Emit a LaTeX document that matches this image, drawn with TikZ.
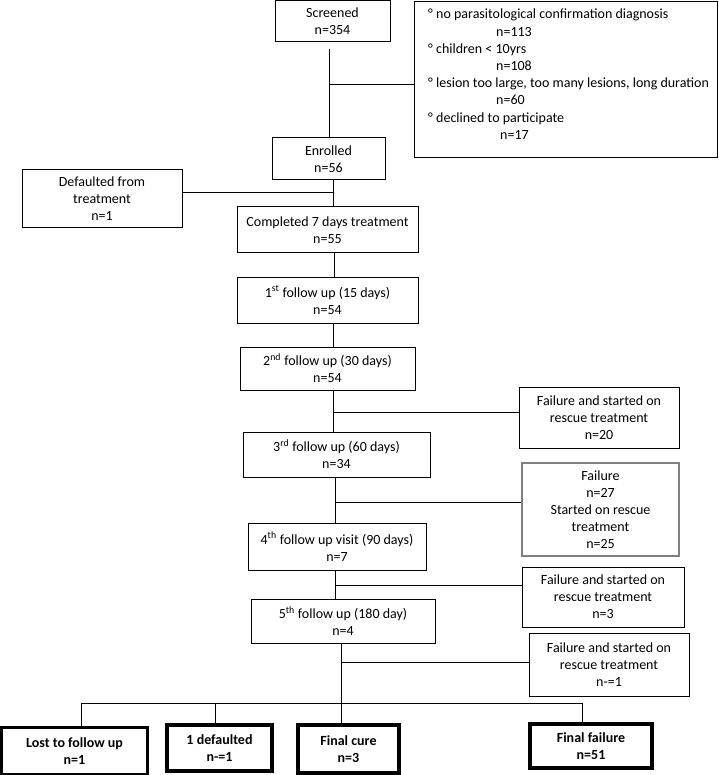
\documentclass[tikz,border=0pt]{standalone}
\usepackage{fontspec}
\setmainfont{Carlito}
\begin{document}
\begin{tikzpicture}[x=1pt,y=-1pt,
  box/.style={draw, line width=1pt, inner sep=0pt, align=center, font=\fontsize{14}{17}\selectfont},
  greybox/.style={box, draw=black!50, line width=1.3pt},
  fin/.style={draw, line width=3.2pt, inner sep=0pt, align=center, font=\fontsize{14}{17}\selectfont\bfseries},
  link/.style={line width=1pt}]
\useasboundingbox (0,0) rectangle (718,775);
% main column
\node[box, minimum width=115pt, minimum height=41pt] (scr) at (332.5,21.5) {Screened\\n=354};
\node[box, minimum width=303pt, minimum height=156pt] (excl) at (565.5,80) {};
\node[anchor=north west, align=left, inner sep=0pt, font=\fontsize{14}{17.2}\selectfont] (excltxt) at (428,9)
 {\makebox[8pt][l]{°}no parasitological confirmation diagnosis\\
  \hspace*{68pt}n=113\\
  \makebox[8pt][l]{°}children < 10yrs\\
  \hspace*{68pt}n=108\\
  \makebox[8pt][l]{°}lesion too large, too many lesions, long duration\\
  \hspace*{68pt}n=60\\
  \makebox[8pt][l]{°}declined to participate\\
  \hspace*{72pt}n=17};
\node[box, minimum width=113pt, minimum height=42pt] (enr) at (328.5,159) {Enrolled\\n=56};
\node[box, minimum width=160pt, minimum height=58pt] (def) at (102,199) {Defaulted from\\treatment\\n=1};
\node[box, minimum width=181pt, minimum height=46pt] (comp) at (327.5,230) {Completed 7 days treatment\\n=55};
\node[box, minimum width=181pt, minimum height=46pt] (f1) at (327.5,300) {1\textsuperscript{st} follow up (15 days)\\n=54};
\node[box, minimum width=175pt, minimum height=43pt] (f2) at (327.5,368.5) {2\textsuperscript{nd} follow up (30 days)\\n=54};
\node[box, minimum width=160pt, minimum height=61pt] (fail1) at (599,417.5) {Failure and started on\\rescue treatment\\n=20};
\node[box, minimum width=187pt, minimum height=45pt] (f3) at (336.5,454.5) {3\textsuperscript{rd} follow up (60 days)\\n=34};
\node[greybox, minimum width=157pt, minimum height=93pt] (fail2) at (600.5,509.5) {Failure\\n=27\\Started on rescue\\treatment\\n=25};
\node[box, minimum width=178pt, minimum height=47pt] (f4) at (337,546.5) {4\textsuperscript{th} follow up visit (90 days)\\n=7};
\node[box, minimum width=162pt, minimum height=60pt] (fail3) at (603,597) {Failure and started on\\rescue treatment\\n=3};
\node[box, minimum width=184pt, minimum height=44pt] (f5) at (343,621) {5\textsuperscript{th} follow up (180 day)\\n=4};
\node[box, minimum width=160pt, minimum height=63pt] (fail4) at (609,664.5) {Failure and started on\\rescue treatment\\n-=1};
% final boxes
\node[fin, minimum width=146pt, minimum height=47pt] (lost) at (74.5,751) {Lost to follow up\\n=1};
\node[fin, minimum width=105pt, minimum height=46pt] (dft) at (219.5,748) {1 defaulted\\n-=1};
\node[fin, minimum width=101pt, minimum height=48pt] (cure) at (348.5,749) {Final cure\\n=3};
\node[fin, minimum width=122pt, minimum height=44pt] (ffail) at (591,746) {Final failure\\n=51};
% junctions
\coordinate (j1) at (329,85);
\coordinate (j2) at (333,193);
\coordinate (j3) at (334,265);
\coordinate (j4) at (333.5,335);
\coordinate (j5) at (333,412);
\coordinate (j6) at (335,502);
\coordinate (j7) at (335,585);
\coordinate (j8) at (341,662);
\coordinate (busl) at (81,703);
\coordinate (busa) at (215,703);
\coordinate (busr) at (582,703);
% connectors
\draw[link, shorten <=7pt] (scr.south -| j1) -- (enr.north -| j1);
\draw[link] (j1) -- (excl.west |- j1);
\draw[link] (enr.south -| j2) -- (comp.north -| j2);
\draw[link] (def.east |- j2) -- (j2);
\draw[link] (comp.south -| j3) -- (f1.north -| j3);
\draw[link] (f1.south -| j4) -- (f2.north -| j4);
\draw[link] (f2.south -| j5) -- (f3.north -| j5);
\draw[link] (j5) -- (fail1.west |- j5);
\draw[link] (f3.south -| j6) -- (f4.north -| j6);
\draw[link] (j6) -- (fail2.west |- j6);
\draw[link] (f4.south -| j7) -- (f5.north -| j7);
\draw[link] (j7) -- (fail3.west |- j7);
\draw[link] (f5.south -| j8) -- (cure.north -| j8);
\draw[link] (j8) -- (fail4.west |- j8);
\draw[link] (busl) -- (busr);
\draw[link] (busl) -- (lost.north -| busl);
\draw[link] (busa) -- (dft.north -| busa);
\draw[link] (busr) -- (ffail.north -| busr);
\end{tikzpicture}
\end{document}
